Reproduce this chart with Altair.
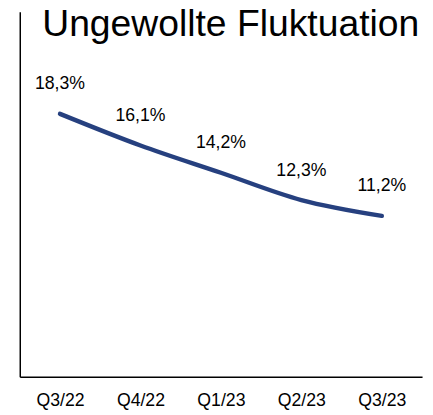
import altair as alt
import pandas as pd

quarters = ["Q3/22", "Q4/22", "Q1/23", "Q2/23", "Q3/23"]
values = [18.3, 16.1, 14.2, 12.3, 11.2]
labels = ["18,3%", "16,1%", "14,2%", "12,3%", "11,2%"]

df = pd.DataFrame({"q": quarters, "v": values, "lab": labels})

x = alt.X("q:N", sort=quarters, title=None,
          scale=alt.Scale(paddingInner=0, paddingOuter=0),
          axis=alt.Axis(labelAngle=0, labelFontSize=18, labelColor="#000000",
                        labelFont="Liberation Sans", ticks=False, domainColor="#000000",
                        domainWidth=1.5, labelPadding=15, grid=False))
y = alt.Y("v:Q", title=None, scale=alt.Scale(domain=[0, 25.4], nice=False, zero=True),
          axis=alt.Axis(labels=False, ticks=False, grid=False, domainColor="#000000",
                        domainWidth=1.5))

line = alt.Chart(df).mark_line(color="#26407F", strokeWidth=4.5, interpolate="monotone",
                               strokeCap="round").encode(x=x, y=y)
text = alt.Chart(df).mark_text(fontSize=18, font="Liberation Sans", color="#000000",
                               dy=-30).encode(x=x, y=y, text="lab:N")

chart = (line + text).properties(
    width=410, height=372,
    title=alt.TitleParams("Ungewollte Fluktuation", fontSize=38, font="Liberation Sans",
                          fontWeight="normal", color="#000000", anchor="middle",
                          offset=0, dy=33, dx=10),
    autosize=alt.AutoSizeParams(type="none"),
    padding={"left": 12, "top": 0, "right": 3, "bottom": 35},
).configure_view(stroke=None)

chart.save("out.html", embed_options={"renderer": "svg", "actions": False})
